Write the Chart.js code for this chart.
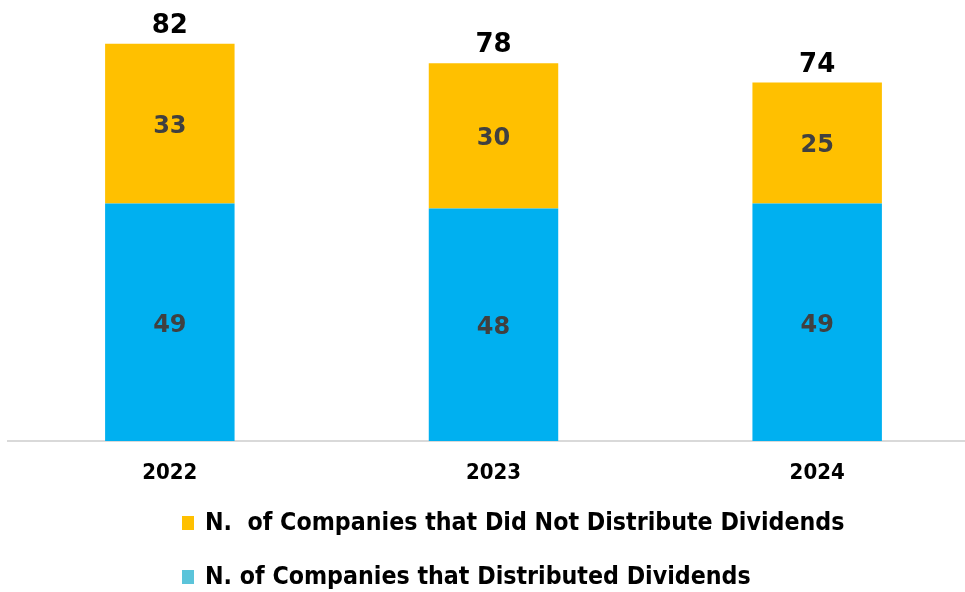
<!DOCTYPE html>
<html>
<head>
<meta charset="utf-8">
<script src="https://cdn.jsdelivr.net/npm/chart.js@4"></script>
<style>
  html, body { margin: 0; padding: 0; background: #fff; overflow: hidden; }
  #wrap { width: 979px; height: 592px; position: relative; }
</style>
</head>
<body>
<div id="wrap"><canvas id="myChart"></canvas></div>
<script>
var years = ['2022', '2023', '2024'];
var distributed = [49, 48, 49];
var notDistributed = [33, 30, 25];
var totals = [82, 78, 74];

var legendItems = [
  { text: 'N.  of Companies that Did Not Distribute Dividends', color: '#FFC000' },
  { text: 'N. of Companies that Distributed Dividends', color: '#5BC4DA' }
];

var numFont = '"DejaVu Sans", sans-serif';
var narrowFont = '"Liberation Sans Narrow", "DejaVu Sans Condensed", sans-serif';

// value inside each segment and the total above each stack
var barLabels = {
  id: 'barLabels',
  afterDatasetsDraw: function(chart) {
    var ctx = chart.ctx;
    ctx.save();
    ctx.textAlign = 'center';
    ctx.textBaseline = 'middle';
    ctx.font = 'bold 24px ' + numFont;
    ctx.fillStyle = '#404040';
    chart.data.datasets.forEach(function(ds, di) {
      chart.getDatasetMeta(di).data.forEach(function(bar, i) {
        ctx.fillText(ds.data[i], bar.x, (bar.y + bar.base) / 2 + 3);
      });
    });
    var top = chart.getDatasetMeta(1).data;
    var y = chart.scales.y;
    ctx.font = 'bold 26px ' + numFont;
    ctx.fillStyle = '#000';
    ctx.textBaseline = 'alphabetic';
    totals.forEach(function(t, i) {
      ctx.fillText(t, top[i].x, y.getPixelForValue(t) - 11);
    });
    ctx.restore();
  }
};

// two-row legend, left aligned
var rowLegend = {
  id: 'rowLegend',
  afterDraw: function(chart) {
    var ctx = chart.ctx;
    ctx.save();
    ctx.font = 'bold 24.7px ' + narrowFont;
    ctx.textBaseline = 'middle';
    ctx.textAlign = 'left';
    legendItems.forEach(function(item, i) {
      var cy = 523 + i * 54;
      ctx.fillStyle = item.color;
      ctx.fillRect(182, cy - 7, 12, 14);
      ctx.fillStyle = '#000';
      ctx.fillText(item.text, 205, cy + 1);
    });
    ctx.restore();
  }
};

var ctx = document.getElementById('myChart');
var myChart = new Chart(ctx, {
  type: 'bar',
  data: {
    labels: years,
    datasets: [{
      label: legendItems[1].text,
      data: distributed,
      backgroundColor: '#00B0F0'
    }, {
      label: legendItems[0].text,
      data: notDistributed,
      backgroundColor: '#FFC000'
    }]
  },
  options: {
    responsive: true,
    maintainAspectRatio: false,
    animation: false,
    layout: { padding: { top: 5, left: 8, right: 0, bottom: 0 } },
    categoryPercentage: 1,
    barPercentage: 0.4,
    plugins: {
      legend: { display: false },
      tooltip: { enabled: false }
    },
    scales: {
      x: {
        stacked: true,
        grid: { display: false, drawTicks: false },
        border: { display: true, color: '#D9D9D9', width: 2 },
        ticks: {
          padding: 19,
          color: '#000',
          font: { family: narrowFont, size: 22, weight: 'bold' }
        },
        afterFit: function(scale) { scale.height = 151; }
      },
      y: {
        stacked: true,
        display: false,
        min: 0,
        max: 90
      }
    }
  },
  plugins: [barLabels, rowLegend]
});
</script>
</body>
</html>
